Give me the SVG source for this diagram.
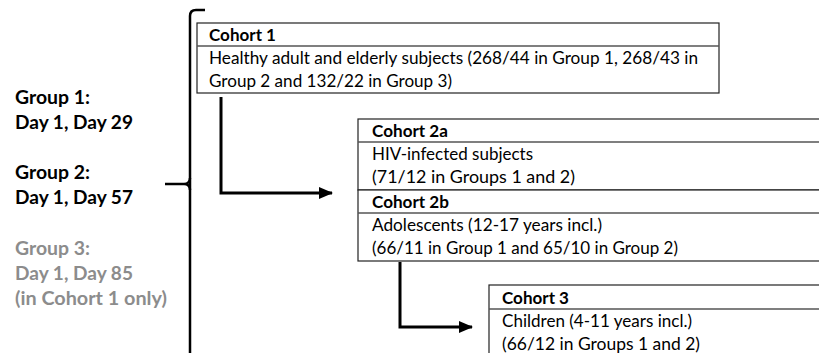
<svg xmlns="http://www.w3.org/2000/svg" width="819" height="353" viewBox="0 0 819 353">
<style>
text{font-family:Lato,"Liberation Sans",sans-serif;font-size:17px;fill:#000}
.b{font-weight:bold}
.l{font-size:19px}
.g{fill:#8c8c8c}
.box{fill:#fff;stroke:#222;stroke-width:1.2}
.div{stroke:#555;stroke-width:1.4}
.con{fill:none;stroke:#000;stroke-width:3}
.br{fill:none;stroke:#000;stroke-width:2.5}
</style>
<defs>
<marker id="ah" markerWidth="14" markerHeight="12" refX="13" refY="6" orient="auto" markerUnits="userSpaceOnUse">
<path d="M0,0 L14,6 L0,12 Z" fill="#000"/>
</marker>
</defs>
<g id="bracket">
<path class="br" d="M205,10 L196,10 Q190,10 190,16 L190,353"/>
<path class="br" d="M165,184 L184,184 Q190,184 190,178 M184,184 Q190,184 190,190"/>
</g>
<g id="groups">
<text class="b l" x="15" y="104" textLength="75" lengthAdjust="spacingAndGlyphs">Group 1:</text>
<text class="b l" x="15" y="129" textLength="118" lengthAdjust="spacingAndGlyphs">Day 1, Day 29</text>
<text class="b l" x="15" y="179" textLength="75" lengthAdjust="spacingAndGlyphs">Group 2:</text>
<text class="b l" x="15" y="204" textLength="118" lengthAdjust="spacingAndGlyphs">Day 1, Day 57</text>
<text class="b l g" x="15" y="255" textLength="75" lengthAdjust="spacingAndGlyphs">Group 3:</text>
<text class="b l g" x="15" y="280" textLength="118" lengthAdjust="spacingAndGlyphs">Day 1, Day 85</text>
<text class="b l g" x="15" y="305" textLength="152" lengthAdjust="spacingAndGlyphs">(in Cohort 1 only)</text>
</g>
<g id="connectors">
<path class="con" d="M221,97 L221,193 L332,193" marker-end="url(#ah)"/>
<path class="con" d="M400,262 L400,327 L472,327" marker-end="url(#ah)"/>
</g>
<g id="cohort1">
<rect class="box" x="197" y="23" width="522" height="70"/>
<line class="div" x1="197" y1="46" x2="719" y2="46"/>
<text class="b" x="209" y="41" textLength="67" lengthAdjust="spacingAndGlyphs">Cohort 1</text>
<text x="209" y="64" textLength="489" lengthAdjust="spacingAndGlyphs">Healthy adult and elderly subjects (268/44 in Group 1, 268/43 in</text>
<text x="209" y="87" textLength="243" lengthAdjust="spacingAndGlyphs">Group 2 and 132/22 in Group 3)</text>
</g>
<g id="cohort2a">
<rect class="box" x="358" y="119" width="500" height="71"/>
<line class="div" x1="358" y1="142" x2="858" y2="142"/>
<text class="b" x="372" y="137" textLength="76" lengthAdjust="spacingAndGlyphs">Cohort 2a</text>
<text x="372" y="160" textLength="161" lengthAdjust="spacingAndGlyphs">HIV-infected subjects</text>
<text x="372" y="183" textLength="203" lengthAdjust="spacingAndGlyphs">(71/12 in Groups 1 and 2)</text>
</g>
<g id="cohort2b">
<rect class="box" x="358" y="190" width="500" height="71"/>
<line class="div" x1="358" y1="213" x2="858" y2="213"/>
<text class="b" x="372" y="208" textLength="77" lengthAdjust="spacingAndGlyphs">Cohort 2b</text>
<text x="372" y="231" textLength="230" lengthAdjust="spacingAndGlyphs">Adolescents (12-17 years incl.)</text>
<text x="372" y="254" textLength="306" lengthAdjust="spacingAndGlyphs">(66/11 in Group 1 and 65/10 in Group 2)</text>
</g>
<g id="cohort3">
<rect class="box" x="489" y="285" width="400" height="80"/>
<line class="div" x1="489" y1="309" x2="889" y2="309"/>
<text class="b" x="502" y="304" textLength="67" lengthAdjust="spacingAndGlyphs">Cohort 3</text>
<text x="502" y="327" textLength="190" lengthAdjust="spacingAndGlyphs">Children (4-11 years incl.)</text>
<text x="502" y="350" textLength="198" lengthAdjust="spacingAndGlyphs">(66/12 in Groups 1 and 2)</text>
</g>
</svg>
